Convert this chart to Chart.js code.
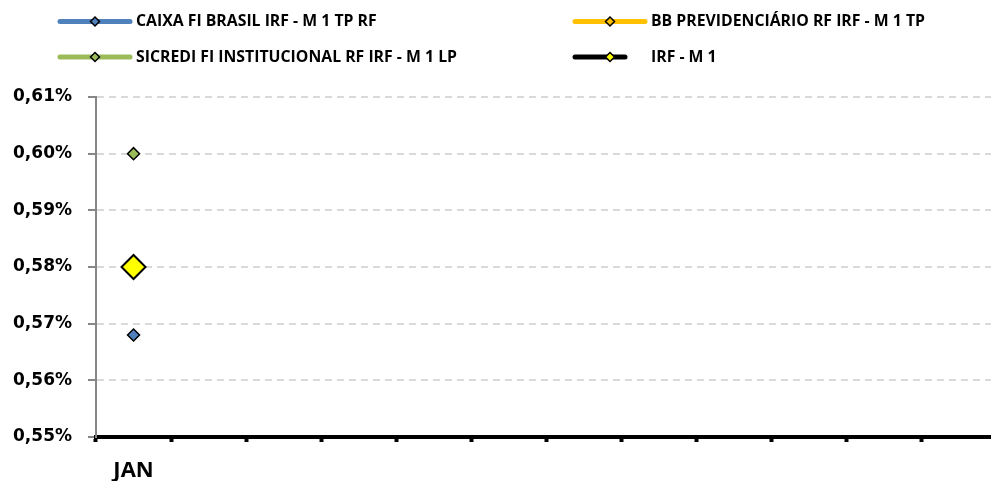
<!DOCTYPE html>
<html>
<head>
<meta charset="utf-8">
<script src="https://cdn.jsdelivr.net/npm/chart.js@4.4.1/dist/chart.umd.min.js"></script>
<style>
  html, body { margin: 0; padding: 0; background: #fff; overflow: hidden; }
  #wrap { position: relative; width: 997px; height: 481px; }
</style>
</head>
<body>
<div id="wrap"><canvas id="grafico"></canvas></div>
<script>
// --- DADOS ---
const MESES = ["JAN", "", "", "", "", "", "", "", "", "", "", ""];
const CAIXA = [0.568, null, null, null, null, null, null, null, null, null, null, null];
const BB = [0.58, null, null, null, null, null, null, null, null, null, null, null];
const SICREDI = [0.60, null, null, null, null, null, null, null, null, null, null, null];
const IRFM1 = [0.58, null, null, null, null, null, null, null, null, null, null, null];
const Y_MIN = 0.55, Y_MAX = 0.61, Y_PASSO = 0.01;

const FONTE = "'Open Sans', Lato, sans-serif";
const FONTE_Y = "'DejaVu Sans', sans-serif";

// legenda desenhada em 2 colunas (como no Excel)
const legendaPlugin = {
    id: 'legendaExcel',
    afterDraw(chart) {
        const ctx = chart.ctx;
        const colX = [58, 573];
        const rowY = [21.5, 57];
        chart.data.datasets.forEach((ds, i) => {
            const x = colX[i % 2];
            const y = rowY[Math.floor(i / 2)];
            const len = ds.legendLen || 74;
            ctx.save();
            ctx.strokeStyle = ds.borderColor;
            ctx.lineWidth = 5;
            ctx.lineCap = 'round';
            ctx.beginPath();
            ctx.moveTo(x + 2, y);
            ctx.lineTo(x + len - 2, y);
            ctx.stroke();
            // marcador
            const mx = x + 37;
            const r = 4.5;
            ctx.fillStyle = ds.pointBackgroundColor;
            ctx.strokeStyle = '#000';
            ctx.lineWidth = 1.5;
            ctx.beginPath();
            ctx.moveTo(mx, y - r);
            ctx.lineTo(mx + r, y);
            ctx.lineTo(mx, y + r);
            ctx.lineTo(mx - r, y);
            ctx.closePath();
            ctx.fill();
            ctx.stroke();
            ctx.fillStyle = '#000';
            ctx.font = "bold 15.8px " + FONTE;
            ctx.textBaseline = 'middle';
            ctx.textAlign = 'left';
            ctx.fillText(ds.label, x + 78, y);
            ctx.restore();
        });
    }
};

const ctx = document.getElementById('grafico').getContext('2d');
new Chart(ctx, {
    type: 'line',
    data: {
        labels: MESES,
        datasets: [
            {
                label: 'CAIXA FI BRASIL IRF - M 1 TP RF',
                data: CAIXA, order: 1,
                borderColor: '#4F81BD',
                pointBackgroundColor: '#4F81BD', pointBorderColor: '#000',
                pointStyle: 'rectRot', pointRadius: 6, pointBorderWidth: 1.5, borderWidth: 5
            },
            {
                label: 'BB PREVIDENCIÁRIO RF IRF - M 1 TP',
                data: BB, order: 1,
                borderColor: '#FFC000',
                pointBackgroundColor: '#FFC000', pointBorderColor: '#000',
                pointStyle: 'rectRot', pointRadius: 6, pointBorderWidth: 1.5, borderWidth: 5
            },
            {
                label: 'SICREDI FI INSTITUCIONAL RF IRF - M 1 LP',
                data: SICREDI, order: 1,
                borderColor: '#9BBB59',
                pointBackgroundColor: '#9BBB59', pointBorderColor: '#000',
                pointStyle: 'rectRot', pointRadius: 6, pointBorderWidth: 1.5, borderWidth: 5
            },
            {
                label: 'IRF - M 1',
                data: IRFM1, order: 0,
                borderColor: '#000', legendLen: 54,
                pointBackgroundColor: '#FFFF00', pointBorderColor: '#000',
                pointStyle: 'rectRot', pointRadius: 12, pointBorderWidth: 2, borderWidth: 5
            }
        ]
    },
    options: {
        responsive: true,
        maintainAspectRatio: false,
        animation: false,
        layout: { autoPadding: false, padding: { top: 97, left: 0, right: 0, bottom: 0 } },
        plugins: {
            legend: { display: false },
            tooltip: { enabled: false }
        },
        scales: {
            x: {
                offset: true,
                grid: {
                    offset: true,
                    drawOnChartArea: false,
                    drawTicks: true,
                    tickLength: 5,
                    tickWidth: 4,
                    tickColor: '#000'
                },
                border: { display: true, color: '#000', width: 4 },
                ticks: {
                    color: '#000',
                    font: { family: FONTE, size: 22, weight: 'bold' },
                    padding: 16,
                    maxRotation: 0,
                    autoSkip: false
                },
                afterFit(scale) { scale.height = 44; }
            },
            y: {
                min: Y_MIN,
                max: Y_MAX,
                grid: {
                    color: '#D9D9D9',
                    lineWidth: 2,
                    tickBorderDash: [],
                    tickColor: '#868686',
                    tickLength: 8,
                    tickWidth: 2
                },
                border: { display: true, color: '#868686', width: 2, dash: [7, 5] },
                ticks: {
                    stepSize: Y_PASSO,
                    color: '#000',
                    padding: 16,
                    font: { family: FONTE_Y, size: 17, weight: 'bold' },
                    callback: v => v.toFixed(2).replace('.', ',') + '%'
                },
                afterFit(scale) { scale.width = 96; }
            }
        }
    },
    plugins: [legendaPlugin]
});
</script>
</body>
</html>
